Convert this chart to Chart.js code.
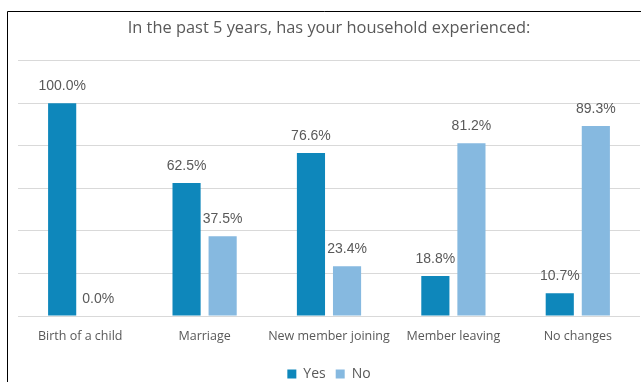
<!DOCTYPE html>
<html>
<head>
<meta charset="utf-8">
<script src="https://cdn.jsdelivr.net/npm/chart.js@4/dist/chart.umd.min.js"></script>
<style>
  html, body { margin: 0; padding: 0; background: #fff; }
  #chart { display: block; }
</style>
</head>
<body>
<canvas id="chart" width="641" height="382"></canvas>
<script>
const categories = ["Birth of a child", "Marriage", "New member joining", "Member leaving", "No changes"];
const yesValues = [100.0, 62.5, 76.6, 18.8, 10.7];
const noValues = [0.0, 37.5, 23.4, 81.2, 89.3];
const yTicks = [0, 20, 40, 60, 80, 100, 120];

const textGray = "#595959";

// outer frame: only the top and left edges fall inside the canvas
const framePlugin = {
    id: "frame",
    beforeDraw(chart) {
        const ctx = chart.ctx;
        ctx.save();
        ctx.strokeStyle = "#000";
        ctx.lineWidth = 1;
        ctx.beginPath();
        ctx.moveTo(7.5, chart.height);
        ctx.lineTo(7.5, 11.5);
        ctx.lineTo(chart.width, 11.5);
        ctx.stroke();
        ctx.restore();
    }
};

// percentage above every bar
const valueLabels = {
    id: "valueLabels",
    afterDatasetsDraw(chart) {
        const ctx = chart.ctx;
        ctx.save();
        ctx.font = "14px 'Liberation Sans', Arial, sans-serif";
        ctx.fillStyle = textGray;
        ctx.textAlign = "center";
        ctx.textBaseline = "middle";
        chart.data.datasets.forEach((ds, i) => {
            chart.getDatasetMeta(i).data.forEach((bar, j) => {
                ctx.fillText(ds.data[j].toFixed(1) + "%", bar.x, bar.y - 17);
            });
        });
        ctx.restore();
    }
};

new Chart(document.getElementById("chart"), {
    type: "bar",
    data: {
        labels: categories,
        datasets: [
            {
                label: "Yes",
                data: yesValues,
                backgroundColor: "#0E87BB",
                categoryPercentage: 0.58,
                barPercentage: 0.78
            },
            {
                label: "No",
                data: noValues,
                backgroundColor: "#86B9E0",
                categoryPercentage: 0.58,
                barPercentage: 0.78
            }
        ]
    },
    options: {
        responsive: false,
        animation: false,
        devicePixelRatio: 1,
        // legend keeps a fixed margin under itself, let it run off the bottom
        layout: { padding: { left: 18, right: 1, top: 10, bottom: -9 } },
        plugins: {
            title: {
                display: true,
                text: "In the past 5 years, has your household experienced:",
                color: textGray,
                font: { family: "'Open Sans', sans-serif", size: 16.4, weight: "normal" },
                padding: { top: 8, bottom: 23 }
            },
            legend: {
                position: "bottom",
                labels: {
                    color: textGray,
                    boxWidth: 9,
                    boxHeight: 9,
                    padding: 10,
                    font: { family: "'Open Sans', sans-serif", size: 14 }
                }
            },
            tooltip: { enabled: false }
        },
        scales: {
            x: {
                grid: { display: false },
                border: { display: false },
                ticks: {
                    color: textGray,
                    padding: 4.5,
                    maxRotation: 0,
                    autoSkip: false,
                    font: { family: "'Open Sans', sans-serif", size: 12.5 }
                },
                afterFit(axis) {
                    axis.height = 41;
                }
            },
            y: {
                min: 0,
                max: 120,
                afterBuildTicks(axis) {
                    axis.ticks = yTicks.map(v => ({ value: v }));
                },
                grid: { color: "#D9D9D9", drawTicks: false },
                border: { display: false },
                ticks: { display: false }
            }
        }
    },
    plugins: [framePlugin, valueLabels]
});
</script>
</body>
</html>
